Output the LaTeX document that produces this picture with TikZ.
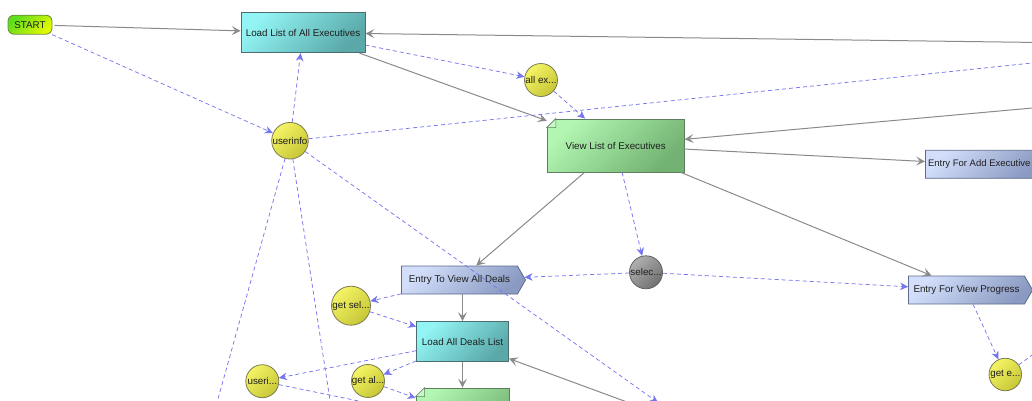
\documentclass[tikz,border=0pt]{standalone}
\usepackage{fontspec}
\setmainfont{Liberation Sans}
\usetikzlibrary{arrows.meta,shapes.symbols,calc}

\definecolor{flowgray}{HTML}{8A8A8A}
\definecolor{dataflow}{HTML}{7676EE}
\definecolor{txt}{HTML}{1E1E1E}

\begin{document}
\begin{tikzpicture}[x=1pt,y=-1pt,
  font=\fontsize{9.8pt}{11pt}\selectfont, text=txt,
  shadebox/.style={shading=axis, shading angle=45, line width=0.8pt},
  termbox/.style={shadebox, rounded corners=6pt, draw=termedge,
    left color=termA, right color=termB, shading angle=45,
    minimum width=44pt, minimum height=19pt, inner sep=0pt},
  procbox/.style={shadebox, draw=procedge, left color=procA, right color=procB,
    shading angle=45, inner sep=2pt},
  notebox/.style={shadebox, draw=noteedge, left color=noteA, right color=noteB,
    shading angle=45, inner sep=2pt},
  entrybox/.style={shadebox, signal, signal to=east, signal pointer angle=120,
    draw=entryedge, left color=entryA, right color=entryB, shading angle=45,
    minimum height=28pt, inner sep=2pt},
  datum/.style={shadebox, circle, draw=datumedge, left color=datumA,
    right color=datumB, shading angle=45, inner sep=0pt},
  greydatum/.style={datum, draw=greyedge, left color=greyA, right color=greyB,
    shading angle=45},
  flow/.style={draw=flowgray, line width=1pt,
    -{Stealth[length=9pt,width=9pt,inset=4pt]}},
  data/.style={draw=dataflow, line width=0.75pt, dash pattern=on 4pt off 3pt,
    -{Stealth[length=8pt,width=7.5pt,inset=2.5pt]}},
  fold/.style={fill=noteA!70!white, draw=noteedge, line width=0.6pt},
]
\definecolor{termedge}{HTML}{6A8A36}
\definecolor{termA}{HTML}{5EDC1E}
\definecolor{termB}{HTML}{E2FA00}
\definecolor{procedge}{HTML}{4C6E6E}
\definecolor{procA}{HTML}{92F4F4}
\definecolor{procB}{HTML}{5AA8A8}
\definecolor{noteedge}{HTML}{5E7E5E}
\definecolor{noteA}{HTML}{B2F6B2}
\definecolor{noteB}{HTML}{72B272}
\definecolor{entryedge}{HTML}{5C6C8C}
\definecolor{entryA}{HTML}{D2DEFA}
\definecolor{entryB}{HTML}{8A9AC2}
\definecolor{datumedge}{HTML}{7C7C50}
\definecolor{datumA}{HTML}{F4F466}
\definecolor{datumB}{HTML}{C6C636}
\definecolor{greyedge}{HTML}{606060}
\definecolor{greyA}{HTML}{B0B0B0}
\definecolor{greyB}{HTML}{707070}

\useasboundingbox (0,0) rectangle (1032,400);
\clip (0,0) rectangle (1032,400);

% activities and entry points
\node[termbox] (start) at (30,24.7) {START};
\node[procbox, minimum width=124pt, minimum height=40pt] (load) at (303,32.7) {Load List of All Executives};
\node[notebox, minimum width=137pt, minimum height=53pt] (view) at (615.7,145.5) {View List of Executives};
\node[procbox, minimum width=92pt, minimum height=40pt] (loaddeals) at (462.5,341.5) {Load All Deals List};
\node[notebox, minimum width=93pt, minimum height=53pt] (dealsview) at (462.5,414.5) {};
\node[entrybox, minimum width=124pt] (dealsentry) at (459.5,280) {Entry To View All Deals};
\node[entrybox, minimum width=124pt] (progress) at (966.5,290) {Entry For View Progress};
\node[entrybox, anchor=west, inner xsep=2.6pt, font=\fontsize{9.5pt}{11pt}\selectfont]
  (addexec) at (925,164.3) {Entry For Add Executive};

% folded corners of the note boxes
\foreach \n in {view,dealsview}{
  \fill[white] ($(\n.north west)+(-1,-1)$) -- ($(\n.north west)+(10,-1)$) -- ($(\n.north west)+(-1,10)$) -- cycle;
  \draw[fold] ($(\n.north west)+(0,9)$) -- ($(\n.north west)+(9,0)$) -- ($(\n.north west)+(9,9)$) -- cycle;
}

% data items
\node[datum, minimum size=36.6pt] (userinfo) at (290,140.7) {\makebox[0pt]{userinfo}};
\node[datum, minimum size=33pt] (allex) at (541,80) {\makebox[0pt]{all ex...}};
\node[greydatum, minimum size=33pt] (selec) at (646,272.3) {\makebox[0pt]{selec...}};
\node[datum, minimum size=39pt] (getsel) at (351,305.7) {\makebox[0pt]{get sel...}};
\node[datum, minimum size=33pt] (useri) at (262.3,381.2) {\makebox[0pt]{useri...}};
\node[datum, minimum size=33pt] (getal) at (368,381) {\makebox[0pt]{get al...}};
\node[datum, minimum size=32.5pt] (gete) at (1005.3,374.5) {\makebox[0pt]{get e...}};

% ends of connectors that leave the visible area
\coordinate (ext1) at (1400,47.3);
\coordinate (ext2) at (1400,24.5);
\coordinate (ext3) at (1400,74.9);
\coordinate (ext4) at (800,465.7);
\coordinate (ext5) at (658,402.5);
\coordinate (ext6) at (161.9,600);
\coordinate (ext7) at (360.8,600);
\coordinate (ext8) at (1060,335);
\coordinate (ext9) at (500,430);

% control flow
\draw[flow, shorten <=2pt] (start) -- (load);
\draw[flow] (load) -- (view);
\draw[flow] (ext1) -- (load);
\draw[flow] (ext3) -- (view);
\draw[flow] (view) -- (addexec);
\draw[flow] (view) -- (dealsentry);
\draw[flow] (view) -- (progress);
\draw[flow] (loaddeals.north |- dealsentry.south) -- (loaddeals);
\draw[flow] (loaddeals) -- (dealsview);
\draw[flow] (ext4) -- (loaddeals);

% object flow
\draw[data] (start) -- (userinfo);
\draw[data] (userinfo) -- (load);
\draw[data] (load) -- (allex);
\draw[data] (allex) -- (view);
\draw[data] (userinfo) -- (ext2);
\draw[data] (view) -- (selec);
\draw[data] (selec) -- (dealsentry);
\draw[data] (selec) -- (progress);
\draw[data] (dealsentry) -- (getsel);
\draw[data] (getsel) -- (loaddeals);
\draw[data] (loaddeals) -- (useri);
\draw[data] (loaddeals) -- (getal);
\draw[data] (getal) -- (dealsview);
\draw[data] (useri) -- (ext9);
\draw[data] (userinfo) -- (ext5);
\draw[data] (userinfo) -- (ext6);
\draw[data] (userinfo) -- (ext7);
\draw[data] (progress) -- (gete);
\draw[data] (gete) -- (ext8);
\end{tikzpicture}
\end{document}
